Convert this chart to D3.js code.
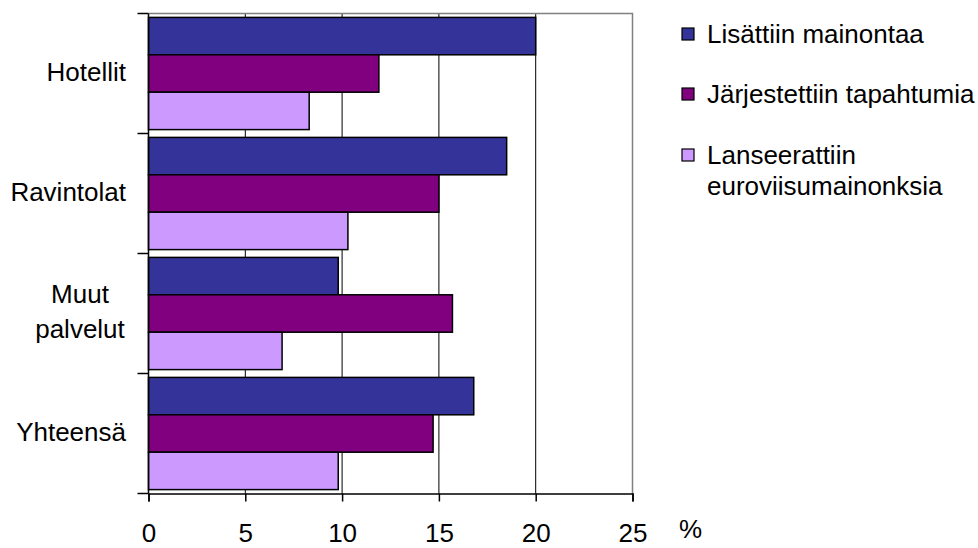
<!DOCTYPE html>
<html>
<head>
<meta charset="utf-8">
<script src="https://cdn.jsdelivr.net/npm/d3@7"></script>
<style>
  html, body { margin: 0; padding: 0; background: #fff; }
  svg { display: block; font-family: "Liberation Sans", Arial, sans-serif; }
</style>
</head>
<body>
<svg id="chart" width="978" height="548"></svg>
<script>
const categories = ["Hotellit", "Ravintolat", "Muut palvelut", "Yhteensä"];
const categoryLines = [["Hotellit"], ["Ravintolat"], ["Muut", "palvelut"], ["Yhteensä"]];
const seriesNames = ["Lisättiin mainontaa", "Järjestettiin tapahtumia", "Lanseerattiin euroviisumainonksia"];
const legendLines = [["Lisättiin mainontaa"], ["Järjestettiin tapahtumia"], ["Lanseerattiin", "euroviisumainonksia"]];
const seriesColors = ["#333399", "#800080", "#CC99FF"];
const advertising = [20.0, 18.5, 9.8, 16.8];
const events = [11.9, 15.0, 15.7, 14.7];
const eurovision = [8.3, 10.3, 6.9, 9.8];
const xTicks = [0, 5, 10, 15, 20, 25];
const unitLabel = "%";

(function () {
const FS = 26;
const seriesValues = [advertising, events, eurovision];
const data = categories.map((c, i) => ({
  cat: c, lines: categoryLines[i],
  vals: seriesValues.map((s, j) => ({ key: seriesNames[j], value: s[i], color: seriesColors[j] }))
}));

const svg = d3.select("#chart");
const pL = 148.5, pR = 632.5, pT = 13.5, pB = 493.5;

const x = d3.scaleLinear().domain([0, 25]).range([pL, pR]);
const pIn = 0.065;
const y = d3.scaleBand().domain(categories).range([pT, pB]).paddingInner(pIn).paddingOuter(pIn / 2);
const yi = d3.scaleBand().domain(seriesNames).range([0, y.bandwidth()]).padding(0);

// gridlines
svg.append("g").selectAll("line").data(xTicks.filter(t => t > 0 && t < 25)).join("line")
  .attr("x1", d => x(d)).attr("x2", d => x(d)).attr("y1", pT).attr("y2", pB)
  .attr("stroke", "#000").attr("stroke-width", 1);

// top and right border (gray)
svg.append("path")
  .attr("d", `M${pL},${pT}H${pR}V${pB}`)
  .attr("fill", "none").attr("stroke", "#808080").attr("stroke-width", 1.5);

// bars
const groups = svg.append("g").selectAll("g").data(data).join("g")
  .attr("transform", d => `translate(0,${y(d.cat)})`);
groups.selectAll("rect").data(d => d.vals).join("rect")
  .attr("x", x(0))
  .attr("y", d => yi(d.key))
  .attr("width", d => x(d.value) - x(0))
  .attr("height", yi.bandwidth())
  .attr("fill", d => d.color)
  .attr("stroke", "#000").attr("stroke-width", 1.5);

// bottom axis
const xAxis = d3.axisBottom(x).tickValues(xTicks).tickSize(8).tickPadding(22).tickFormat(d3.format("d"));
const gx = svg.append("g").attr("transform", `translate(0,${pB})`).call(xAxis);
gx.select(".domain").attr("stroke", "#000").attr("stroke-width", 1.5);
gx.selectAll(".tick line").attr("stroke", "#000").attr("stroke-width", 1.5);
gx.selectAll(".tick text").attr("font-size", FS).attr("fill", "#000")
  .attr("font-family", "'Liberation Sans', Arial, sans-serif");

// left axis line
svg.append("line").attr("x1", pL).attr("x2", pL).attr("y1", pT).attr("y2", pB)
  .attr("stroke", "#000").attr("stroke-width", 1.5);
// category boundary ticks
const off = y.step() * y.paddingOuter();
const bounds = categories.map(c => y(c) - off).concat([pB]);
svg.append("g").selectAll("line").data(bounds).join("line")
  .attr("x1", pL - 11).attr("x2", pL).attr("y1", d => d).attr("y2", d => d)
  .attr("stroke", "#000").attr("stroke-width", 1.5);

// category labels
const lineH = 35;
svg.append("g").selectAll("text").data(data).join("text")
  .attr("font-size", FS).attr("fill", "#000")
  .each(function(d) {
    const t = d3.select(this);
    const cy = y(d.cat) + y.bandwidth() / 2;
    const n = d.lines.length;
    if (n === 1) {
      t.attr("text-anchor", "end").attr("x", 126).attr("y", cy + 7).text(d.lines[0]);
    } else {
      t.attr("text-anchor", "middle");
      d.lines.forEach((ln, k) => {
        t.append("tspan").attr("x", 80).attr("y", cy + 7 + (k - (n - 1) / 2) * lineH).text(ln);
      });
    }
  });

// unit label
svg.append("text").attr("x", 679).attr("y", 538).attr("font-size", FS).attr("fill", "#000").text(unitLabel);

// legend
const legendY = [43, 103, 164];
const leg = svg.append("g").selectAll("g").data(seriesNames).join("g")
  .attr("transform", (d, i) => `translate(0,${legendY[i]})`);
leg.append("rect").attr("x", 682).attr("y", -15).attr("width", 12).attr("height", 12)
  .attr("fill", (d, i) => seriesColors[i]).attr("stroke", "#000").attr("stroke-width", 1.2);
leg.append("text").attr("font-size", FS).attr("fill", "#000")
  .each(function(d, i) {
    const t = d3.select(this);
    legendLines[i].forEach((ln, k) => {
      t.append("tspan").attr("x", 707).attr("y", k * 31).text(ln);
    });
  });
})();
</script>
</body>
</html>
